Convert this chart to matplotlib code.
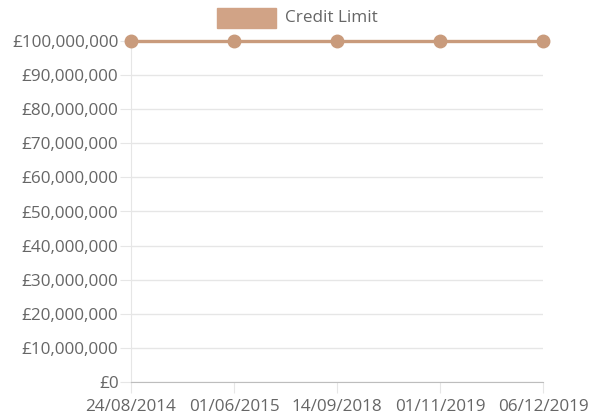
import matplotlib.pyplot as plt
from matplotlib.patches import Rectangle
from matplotlib.ticker import FuncFormatter, MultipleLocator

# Data
dates = ['24/08/2014', '01/06/2015', '14/09/2018', '01/11/2019', '06/12/2019']
credit_limit = [100000000, 100000000, 100000000, 100000000, 100000000]

plt.rcParams['font.family'] = ['Open Sans', 'DejaVu Sans']
line_color = '#c99b7c'
text_color = '#666666'
grid_color = '#e6e6e6'

fig = plt.figure(figsize=(5.92, 4.19), dpi=100)
ax = fig.add_axes([131 / 592, 1 - 382 / 419, 412 / 592, 341 / 419])

x = list(range(len(dates)))
ax.plot(x, credit_limit, color=line_color, linewidth=2.4, marker='o',
        markersize=9, clip_on=False, zorder=3)

ax.set_xlim(0, len(dates) - 1)
ax.set_ylim(0, 100000000)
ax.yaxis.set_major_locator(MultipleLocator(10000000))
ax.yaxis.set_major_formatter(FuncFormatter(lambda v, p: '£{:,.0f}'.format(v)))
ax.set_xticks(x)
ax.set_xticklabels(dates)

ax.grid(axis='y', color=grid_color, linewidth=1)
ax.set_axisbelow(True)
for side in ['top', 'right']:
    ax.spines[side].set_visible(False)
ax.spines['left'].set_color(grid_color)
ax.spines['bottom'].set_color('#bdbdbd')
ax.tick_params(axis='y', length=8, color=grid_color, labelcolor=text_color,
               labelsize=12.3, pad=1)
ax.tick_params(axis='x', length=8, color=grid_color, labelcolor=text_color,
               labelsize=12.3, pad=4)

# Legend
fig.patches.append(Rectangle((217 / 592, 1 - 28 / 419), 59 / 592, 20 / 419,
                             transform=fig.transFigure, facecolor='#d1a386',
                             edgecolor='#d1a386'))
fig.text(285 / 592, 1 - 18 / 419, 'Credit Limit', color=text_color,
         fontsize=12.3, va='center', ha='left')

fig.savefig('out.png', dpi=100)
